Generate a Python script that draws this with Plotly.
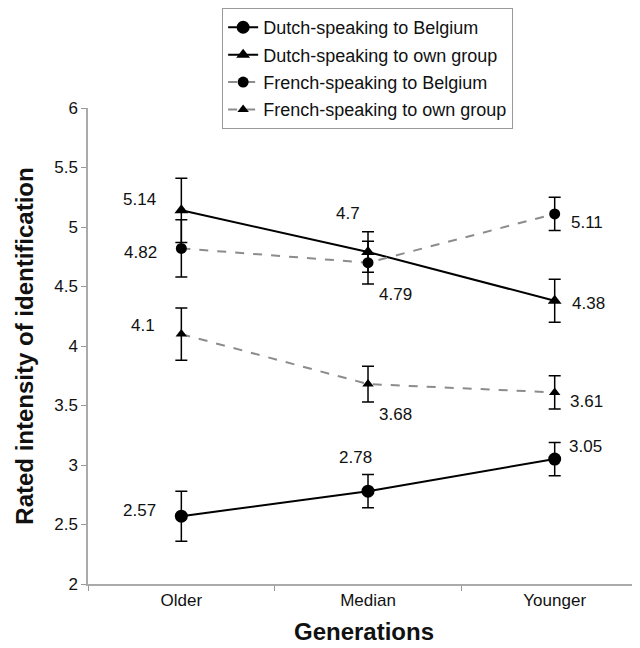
import plotly.graph_objects as go

generations = ["Older", "Median", "Younger"]

series_names = [
    "Dutch-speaking to Belgium",
    "Dutch-speaking to own group",
    "French-speaking to Belgium",
    "French-speaking to own group",
]
dutch_belgium = [2.57, 2.78, 3.05]
dutch_own = [5.14, 4.79, 4.38]
french_belgium = [4.82, 4.70, 5.11]
french_own = [4.10, 3.68, 3.61]

dutch_belgium_err = [0.21, 0.14, 0.14]
dutch_own_err = [0.27, 0.17, 0.18]
french_belgium_err = [0.24, 0.18, 0.14]
french_own_err = [0.22, 0.15, 0.14]

# value labels as printed on the chart
dutch_belgium_lbl = ["2.57", "2.78", "3.05"]
dutch_own_lbl = ["5.14", "4.7", "4.38"]
french_belgium_lbl = ["4.82", "4.79", "5.11"]
french_own_lbl = ["4.1", "3.68", "3.61"]

y_ticks = [2, 2.5, 3, 3.5, 4, 4.5, 5, 5.5, 6]

FONT = "Liberation Sans, Arial, sans-serif"
TXT = "#111"

values = [dutch_belgium, dutch_own, french_belgium, french_own]
errors = [dutch_belgium_err, dutch_own_err, french_belgium_err, french_own_err]
labels = [dutch_belgium_lbl, dutch_own_lbl, french_belgium_lbl, french_own_lbl]
symbols = ["circle", "triangle-up", "circle", "triangle-up"]
msizes = [13, 12, 11, 10]
line_styles = [
    dict(color="black", width=2, dash="solid"),
    dict(color="black", width=2, dash="solid"),
    dict(color="#8c8c8c", width=2, dash="dash"),
    dict(color="#8c8c8c", width=2, dash="dash"),
]
label_offsets = [
    [(-42, 6), (-13, 34), (31, 13)],
    [(-42, 11), (-20, 38), (34, -3)],
    [(-41, -4), (27, -32), (32, -9)],
    [(-38, 9), (27, -30), (32, -9)],
]

fig = go.Figure()
annotations = []
for i in range(4):
    fig.add_trace(go.Scatter(
        x=generations, y=values[i], name=series_names[i],
        mode="lines+markers",
        line=line_styles[i],
        marker=dict(symbol=symbols[i], size=msizes[i], color="black"),
        error_y=dict(type="data", array=errors[i], color="black",
                     thickness=1.5, width=6),
        legendgroup=f"g{i}",
    ))
    for j, g in enumerate(generations):
        dx, dy = label_offsets[i][j]
        annotations.append(dict(
            x=g, y=values[i][j], text=labels[i][j], showarrow=False,
            xshift=dx, yshift=dy, font=dict(size=17, color=TXT, family=FONT),
        ))

fig.update_layout(
    width=632, height=640,
    margin=dict(l=80, r=0, t=94, b=64),
    paper_bgcolor="white", plot_bgcolor="white",
    font=dict(family=FONT, color=TXT),
    showlegend=True,
    legend=dict(
        x=0.243, y=1.21, xanchor="left", yanchor="top",
        bordercolor="#999", borderwidth=1, bgcolor="white",
        font=dict(size=18, family=FONT, color=TXT),
        tracegroupgap=1,
    ),
    annotations=annotations,
    xaxis=dict(
        type="category", range=[-0.5, 2.457],
        tickson="boundaries", ticks="outside", ticklen=5, tickcolor="#999",
        showline=True, linecolor="#aaa", linewidth=1.5, showgrid=False,
        tickfont=dict(size=17, family=FONT, color=TXT),
        title=dict(text="<b>Generations</b>", font=dict(size=24, family=FONT, color=TXT),
                   standoff=14),
        zeroline=False,
    ),
    yaxis=dict(
        range=[2, 6], tickvals=y_ticks, ticktext=[f"{v:g}" for v in y_ticks],
        ticks="outside", ticklen=5, tickcolor="#999",
        showline=True, linecolor="#aaa", linewidth=1.5, showgrid=False,
        zeroline=False,
        tickfont=dict(size=17, family=FONT, color=TXT),
        title=dict(text="<b>Rated intensity of identification</b>",
                   font=dict(size=24, family=FONT, color=TXT), standoff=14),
    ),
)

fig.write_html("out.html")
